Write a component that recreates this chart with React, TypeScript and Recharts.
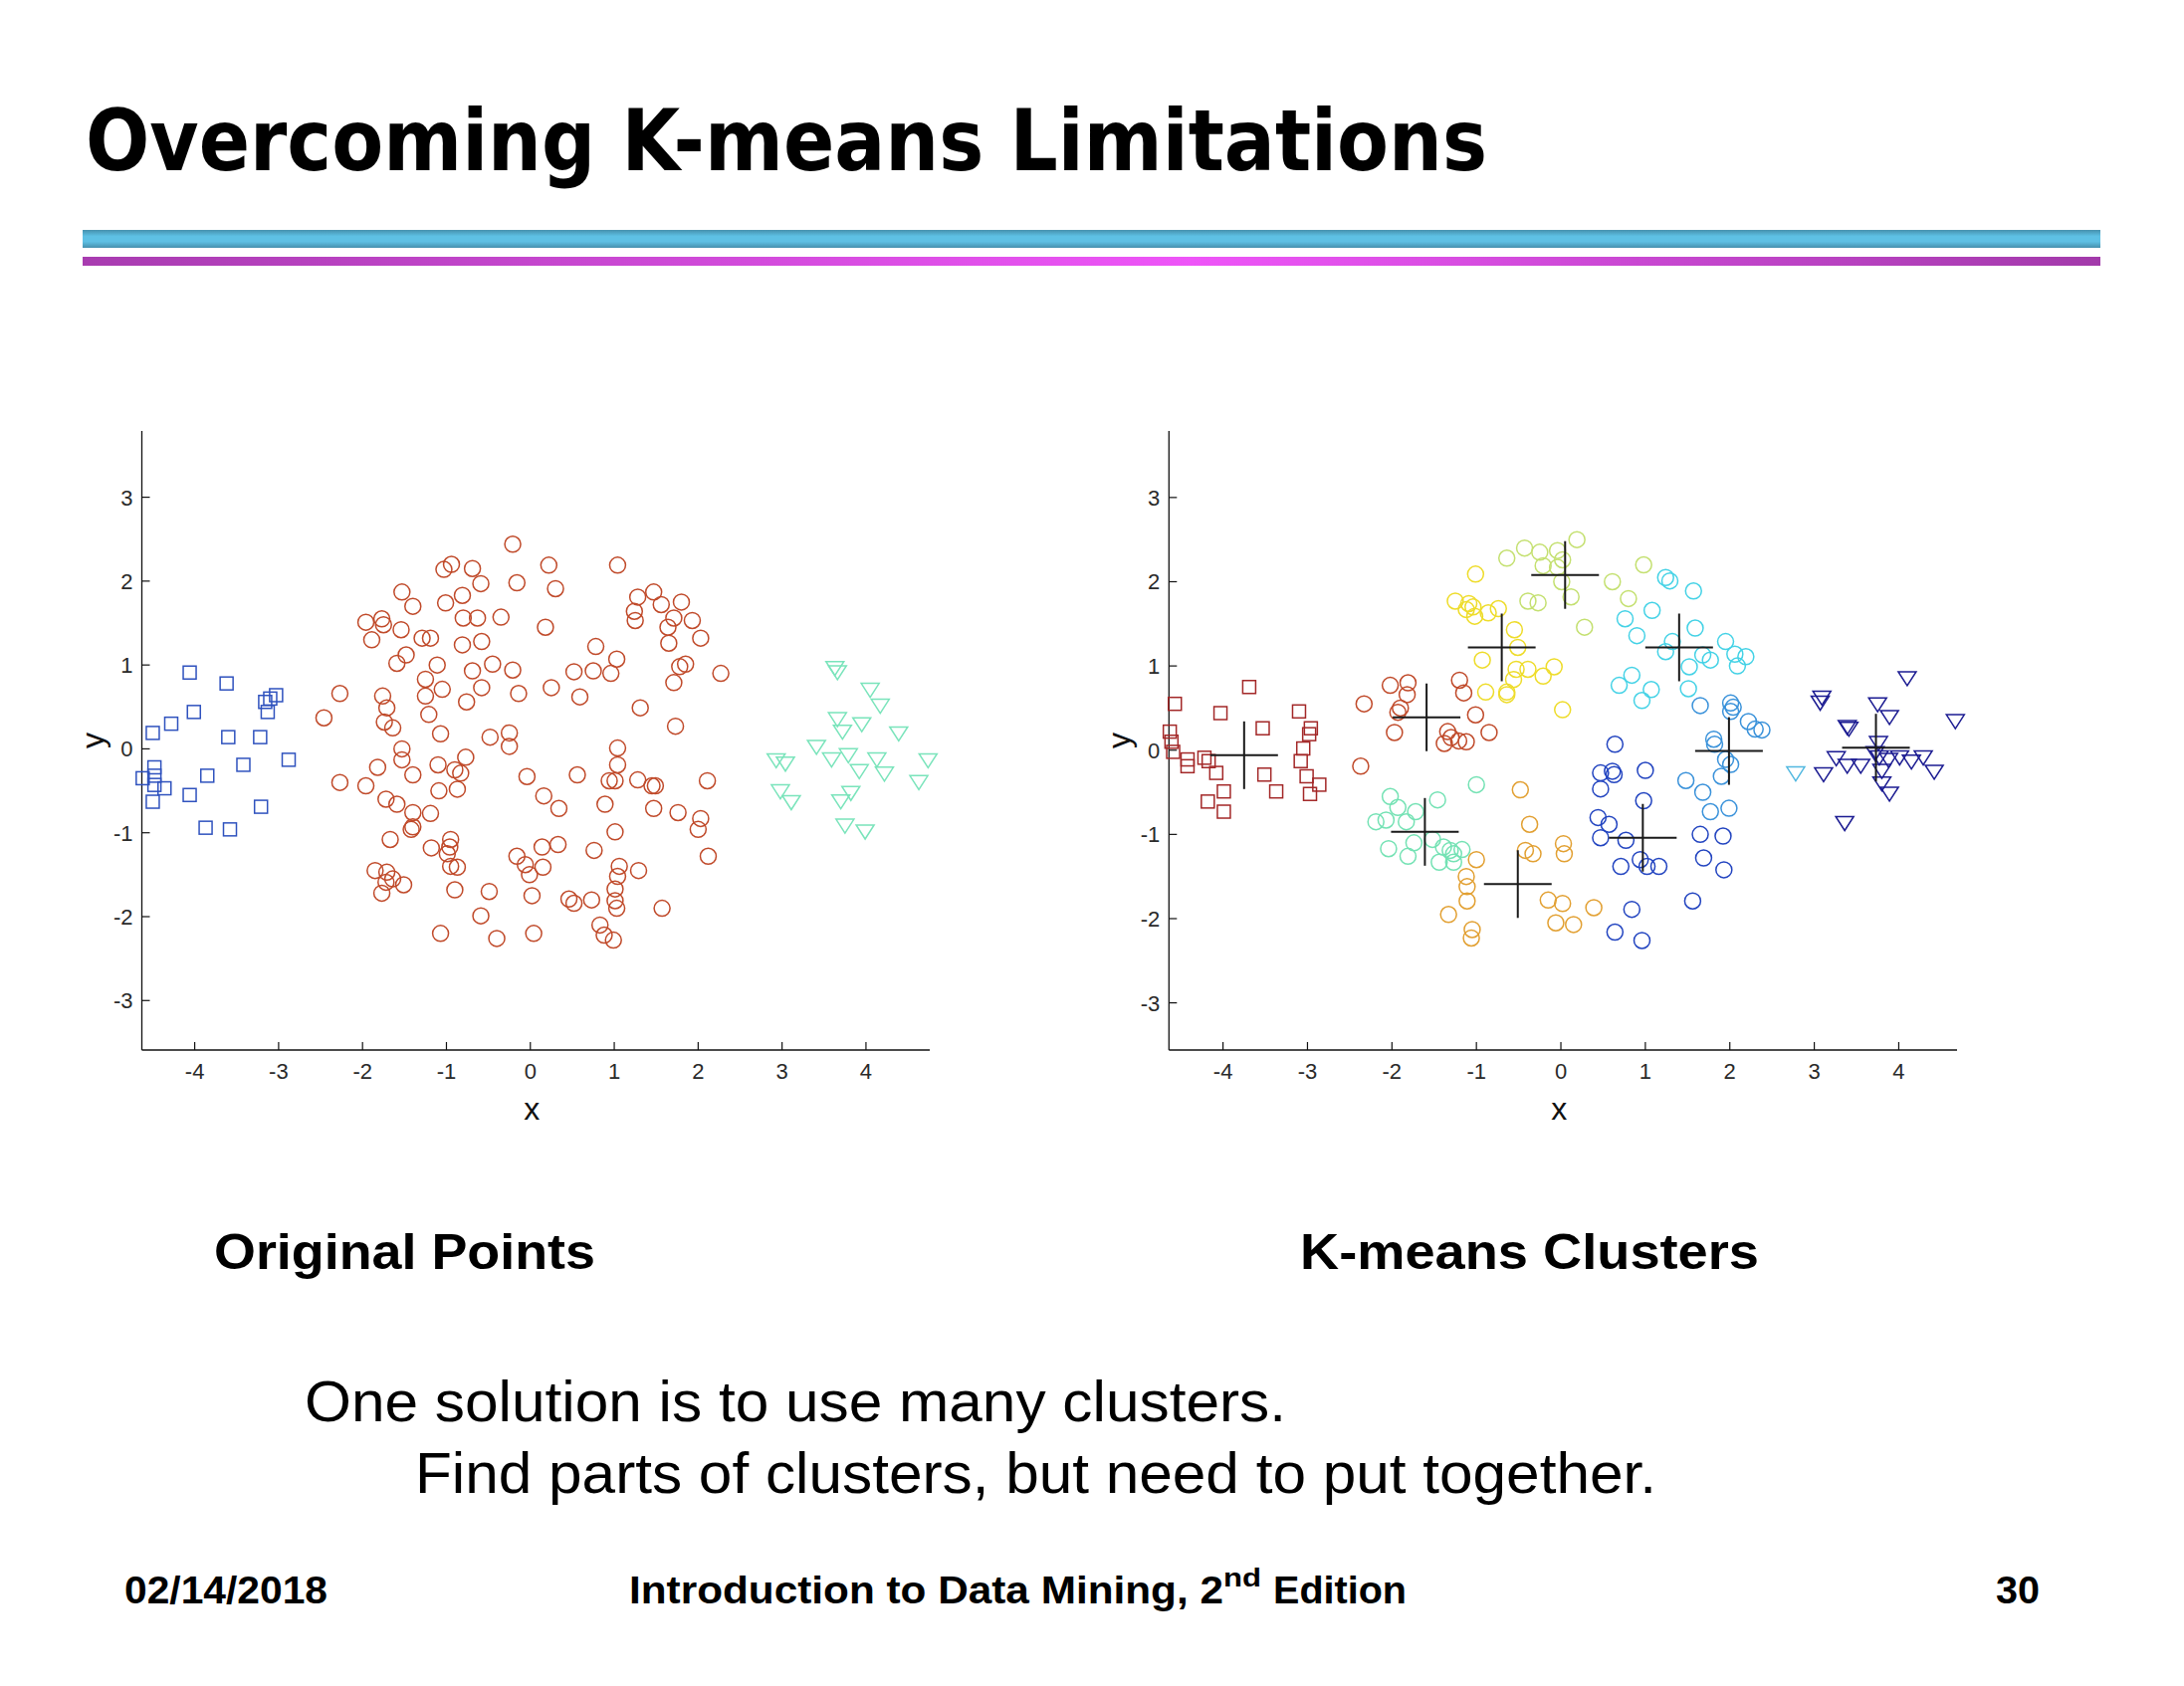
import { ScatterChart, Scatter, XAxis, YAxis } from "recharts";

// ─── Data ──────────────────────────────────────────────────

type Pt = [number, number];

const TICKS_X = [-4, -3, -2, -1, 0, 1, 2, 3, 4];
const TICKS_Y = [-3, -2, -1, 0, 1, 2, 3];

// Original Points
const origSquares: Pt[] = [
  [-4.06, 0.91], [-3.62, 0.78], [-3.03, 0.64], [-3.16, 0.56], [-3.1, 0.6], [-3.13, 0.44],
  [-4.01, 0.44], [-4.28, 0.3], [-4.5, 0.19], [-3.6, 0.14], [-3.22, 0.14], [-2.88, -0.13],
  [-3.42, -0.19], [-3.85, -0.32], [-4.48, -0.22], [-4.48, -0.32], [-4.62, -0.35], [-4.48, -0.43],
  [-4.36, -0.47], [-4.06, -0.55], [-4.5, -0.63], [-3.21, -0.69], [-3.87, -0.94], [-3.58, -0.96],
];

const origTriangles: Pt[] = [
  [3.63, 0.97], [3.66, 0.92], [4.05, 0.71], [4.17, 0.52], [3.66, 0.36], [3.95, 0.3],
  [3.72, 0.21], [4.39, 0.19], [3.41, 0.03], [3.59, -0.12], [3.79, -0.07], [4.13, -0.12],
  [4.74, -0.13], [2.93, -0.13], [3.04, -0.17], [3.92, -0.26], [4.22, -0.29], [4.63, -0.39],
  [2.98, -0.5], [3.11, -0.63], [3.82, -0.52], [3.7, -0.62], [3.75, -0.91], [3.99, -0.98],
];

const origCircles: Pt[] = [
  [-0.21, 2.44], [-0.94, 2.2], [-1.03, 2.14], [-0.69, 2.15], [0.22, 2.19], [1.04, 2.19],
  [-0.16, 1.98], [-0.59, 1.97], [0.3, 1.91], [-1.53, 1.87], [-0.81, 1.83], [1.28, 1.81],
  [1.47, 1.87], [-1.4, 1.7], [-1.01, 1.74], [1.56, 1.72], [1.8, 1.75], [1.24, 1.64],
  [1.25, 1.53], [-1.96, 1.51], [-1.77, 1.55], [-1.75, 1.48], [-1.54, 1.42], [-0.8, 1.56],
  [-0.63, 1.56], [-0.35, 1.57], [1.71, 1.56], [1.93, 1.53], [1.64, 1.45], [0.18, 1.45],
  [-1.89, 1.3], [-1.29, 1.32], [-1.19, 1.32], [-0.81, 1.24], [-0.58, 1.28], [1.65, 1.26],
  [2.03, 1.32], [-1.48, 1.12], [-1.59, 1.02], [-1.11, 1.0], [-0.45, 1.01], [0.78, 1.22],
  [1.03, 1.07], [-0.69, 0.93], [-0.21, 0.94], [0.52, 0.92], [0.75, 0.93], [0.96, 0.9],
  [1.85, 1.01], [1.78, 0.98], [2.27, 0.9], [-1.25, 0.83], [-1.05, 0.71], [-0.58, 0.73],
  [0.25, 0.73], [1.71, 0.79], [-2.27, 0.66], [-1.76, 0.63], [-1.25, 0.63], [-0.14, 0.66],
  [0.59, 0.62], [-0.76, 0.56], [-1.71, 0.49], [1.31, 0.49], [-2.46, 0.37], [-1.21, 0.41],
  [-1.74, 0.32], [-1.64, 0.25], [1.73, 0.27], [-1.07, 0.18], [-0.25, 0.19], [-0.48, 0.14],
  [-0.25, 0.03], [-1.53, 0.0], [1.04, 0.01], [-1.53, -0.13], [-0.77, -0.1], [-1.1, -0.19],
  [1.04, -0.19], [-1.82, -0.22], [-0.9, -0.25], [-0.83, -0.29], [-1.4, -0.31], [-0.04, -0.33],
  [0.56, -0.31], [-2.27, -0.4], [-1.96, -0.44], [0.94, -0.38], [1.01, -0.38], [1.28, -0.37],
  [1.45, -0.44], [1.49, -0.44], [2.11, -0.38], [-1.09, -0.5], [-0.87, -0.48], [-1.72, -0.6],
  [-1.59, -0.66], [0.16, -0.56], [0.89, -0.66], [0.34, -0.71], [1.47, -0.71], [-1.4, -0.76],
  [-1.19, -0.77], [1.76, -0.76], [2.03, -0.83], [-1.4, -0.93], [-1.42, -0.96], [2.0, -0.96],
  [1.01, -0.99], [-1.67, -1.08], [-0.95, -1.08], [-0.96, -1.17], [-1.18, -1.18], [0.14, -1.17],
  [0.33, -1.14], [0.76, -1.21], [-0.99, -1.25], [2.12, -1.28], [-0.16, -1.28], [-0.06, -1.38],
  [-0.95, -1.4], [-0.87, -1.41], [0.15, -1.41], [1.29, -1.45], [1.06, -1.4], [-1.85, -1.45],
  [-1.71, -1.47], [-1.64, -1.55], [-1.72, -1.59], [-1.51, -1.62], [1.04, -1.52], [-0.01, -1.5],
  [1.01, -1.67], [-0.9, -1.68], [-0.49, -1.7], [-1.77, -1.72], [0.02, -1.75], [0.46, -1.79],
  [0.52, -1.84], [0.73, -1.8], [1.01, -1.81], [1.03, -1.9], [1.57, -1.9], [-0.59, -1.99],
  [0.83, -2.1], [0.88, -2.22], [-1.07, -2.2], [0.04, -2.2], [-0.4, -2.26], [0.99, -2.28],
];

// K-means Clusters (one array per cluster)
const kmSquares: Pt[] = [
  [-3.69, 0.75], [-4.57, 0.55], [-4.03, 0.44], [-3.1, 0.46], [-4.63, 0.22], [-3.53, 0.26],
  [-2.96, 0.26], [-2.98, 0.19], [-4.61, 0.1], [-4.59, -0.02], [-3.05, 0.02], [-4.42, -0.11],
  [-4.42, -0.19], [-4.22, -0.09], [-4.17, -0.13], [-3.08, -0.13], [-4.08, -0.27], [-3.51, -0.29],
  [-3.01, -0.31], [-2.86, -0.41], [-3.37, -0.49], [-3.99, -0.49], [-2.97, -0.52], [-4.18, -0.61],
  [-3.99, -0.73],
];

const kmBrown: Pt[] = [
  [-2.02, 0.77], [-1.81, 0.8], [-1.82, 0.66], [-1.2, 0.83], [-1.15, 0.68], [-2.33, 0.55],
  [-1.9, 0.5], [-1.93, 0.45], [-1.01, 0.42], [-1.97, 0.21], [-1.34, 0.22], [-1.3, 0.15],
  [-1.21, 0.11], [-1.12, 0.1], [-1.38, 0.08], [-0.85, 0.21], [-2.37, -0.19],
];

const kmYellow: Pt[] = [
  [-1.01, 2.09], [-1.25, 1.77], [-1.09, 1.74], [-1.04, 1.7], [-1.12, 1.67], [-1.02, 1.59],
  [-0.86, 1.63], [-0.74, 1.68], [-0.55, 1.43], [-0.51, 1.22], [-0.93, 1.07], [-0.53, 0.96],
  [-0.56, 0.84], [-0.39, 0.96], [-0.21, 0.88], [-0.08, 0.99], [-0.89, 0.69], [-0.64, 0.69],
  [-0.64, 0.66], [0.02, 0.48],
];

const kmLime: Pt[] = [
  [-0.64, 2.28], [-0.43, 2.4], [-0.25, 2.35], [-0.04, 2.37], [0.19, 2.5], [0.02, 2.26],
  [-0.21, 2.19], [-0.04, 2.17], [0.01, 2.0], [0.12, 1.82], [-0.39, 1.77], [-0.27, 1.75],
  [0.28, 1.46], [0.61, 2.0], [0.98, 2.2], [0.8, 1.8],
];

const kmCyan: Pt[] = [
  [1.24, 2.05], [1.29, 2.01], [1.57, 1.89], [1.08, 1.66], [0.76, 1.56], [0.9, 1.36],
  [1.59, 1.45], [1.24, 1.17], [1.32, 1.29], [1.95, 1.29], [1.68, 1.13], [1.77, 1.07],
  [2.06, 1.14], [2.19, 1.11], [2.09, 1.0], [1.52, 0.99], [0.84, 0.89], [0.69, 0.77],
  [1.07, 0.72], [0.96, 0.59], [1.51, 0.73],
];

const kmSky: Pt[] = [
  [1.65, 0.53], [2.01, 0.56], [2.04, 0.51], [2.01, 0.46], [2.22, 0.34], [2.3, 0.25],
  [2.38, 0.24], [1.81, 0.13], [1.82, 0.07], [1.95, -0.11], [2.01, -0.17], [1.48, -0.36],
  [1.9, -0.31], [1.68, -0.5], [1.99, -0.69], [1.77, -0.73],
];
const kmSkyTriangles: Pt[] = [[2.78, -0.27]];

const kmBlue: Pt[] = [
  [0.64, 0.07], [0.47, -0.27], [0.61, -0.25], [0.63, -0.29], [1.0, -0.24], [0.47, -0.46],
  [0.98, -0.6], [0.44, -0.8], [0.57, -0.88], [0.47, -1.04], [0.77, -1.07], [1.65, -1.0],
  [1.92, -1.02], [0.94, -1.3], [1.02, -1.38], [1.16, -1.38], [0.71, -1.38], [1.69, -1.28],
  [1.93, -1.42], [1.56, -1.79], [0.84, -1.89], [0.64, -2.16], [0.96, -2.26],
];

const kmMint: Pt[] = [
  [-1.0, -0.41], [-2.02, -0.55], [-1.46, -0.59], [-1.93, -0.68], [-1.72, -0.73], [-2.19, -0.85],
  [-2.07, -0.83], [-1.83, -0.85], [-1.52, -1.06], [-1.74, -1.1], [-2.04, -1.17], [-1.39, -1.15],
  [-1.31, -1.19], [-1.17, -1.18], [-1.27, -1.23], [-1.81, -1.26], [-1.44, -1.33], [-1.27, -1.33],
];

const kmOrange: Pt[] = [
  [-0.48, -0.47], [-0.37, -0.88], [-0.42, -1.19], [-0.33, -1.23], [0.03, -1.11], [0.04, -1.23],
  [-1.0, -1.3], [-1.12, -1.5], [-1.11, -1.62], [-1.11, -1.79], [-1.33, -1.95], [-0.15, -1.78],
  [0.02, -1.82], [0.39, -1.87], [-0.06, -2.05], [0.15, -2.07], [-1.05, -2.13], [-1.06, -2.23],
];

const kmNavyTriangles: Pt[] = [
  [3.09, 0.63], [3.07, 0.57], [4.1, 0.86], [3.75, 0.55], [3.89, 0.4], [3.39, 0.28],
  [3.41, 0.26], [4.67, 0.35], [3.76, 0.09], [3.26, -0.09], [3.39, -0.18], [3.55, -0.18],
  [3.77, -0.08], [3.88, -0.11], [4.01, -0.08], [3.72, -0.03], [4.15, -0.13], [4.29, -0.08],
  [4.42, -0.25], [3.11, -0.28], [3.8, -0.24], [3.8, -0.39], [3.89, -0.51], [3.36, -0.86],
];

const kmCentroids: Pt[] = [
  [-3.75, -0.06], [-1.59, 0.39], [-0.7, 1.22], [0.05, 2.08], [1.4, 1.22],
  [1.99, -0.01], [0.97, -1.04], [-1.61, -0.97], [-0.51, -1.59], [3.73, 0.03],
];

const toRows = (pts: Pt[]) => pts.map(([x, y]) => ({ x, y }));

// ─── Markers ───────────────────────────────────────────────

type Kind = "circle" | "square" | "triangle" | "cross";

interface MarkerProps {
  cx?: number;
  cy?: number;
  kind: Kind;
  color: string;
}

function Marker({ cx, cy, kind, color }: MarkerProps) {
  if (cx === undefined || cy === undefined) return <g />;
  if (kind === "circle")
    return <circle cx={cx} cy={cy} r={8} fill="none" stroke={color} strokeWidth={1.5} />;
  if (kind === "square")
    return <rect x={cx - 6.5} y={cy - 6.5} width={13} height={13} fill="none" stroke={color} strokeWidth={1.5} />;
  if (kind === "triangle")
    return (
      <polygon
        points={`${cx - 9},${cy - 6} ${cx + 9},${cy - 6} ${cx},${cy + 8}`}
        fill="none"
        stroke={color}
        strokeWidth={1.5}
      />
    );
  // centroid "+"
  return (
    <g stroke={color} strokeWidth={2}>
      <line x1={cx - 34} y1={cy} x2={cx + 34} y2={cy} />
      <line x1={cx} y1={cy - 34} x2={cx} y2={cy + 34} />
    </g>
  );
}

const TICK_FONT = "'Liberation Sans', Arial, sans-serif";

// ticks point inwards, like matlab
function XTick({ x, y, payload }: { x?: number; y?: number; payload?: { value: number } }) {
  if (x === undefined || y === undefined || !payload) return <g />;
  return (
    <g>
      <line x1={x} y1={y} x2={x} y2={y - 8} stroke="#111" strokeWidth={1.2} />
      <text x={x} y={y + 29} textAnchor="middle" fontSize={22} fill="#2a2a2a" fontFamily={TICK_FONT}>
        {payload.value}
      </text>
    </g>
  );
}

function YTick({ x, y, payload }: { x?: number; y?: number; payload?: { value: number } }) {
  if (x === undefined || y === undefined || !payload) return <g />;
  return (
    <g>
      <line x1={x} y1={y} x2={x + 8} y2={y} stroke="#111" strokeWidth={1.2} />
      <text x={x - 9} y={y + 8} textAnchor="end" fontSize={22} fill="#2a2a2a" fontFamily={TICK_FONT}>
        {payload.value}
      </text>
    </g>
  );
}

function XLabel({ viewBox }: { viewBox?: { x: number; y: number; width: number } }) {
  if (!viewBox) return null;
  return (
    <text x={viewBox.x + viewBox.width / 2 - 4} y={viewBox.y + 70} textAnchor="middle" fontSize={32} fill="#111" fontFamily={TICK_FONT}>
      x
    </text>
  );
}

function YLabel({ viewBox }: { viewBox?: { x: number; y: number; width: number; height: number } }) {
  if (!viewBox) return null;
  const cx = viewBox.x + viewBox.width - 50;
  const cy = viewBox.y + viewBox.height / 2;
  return (
    <text
      x={cx}
      y={cy}
      transform={`rotate(-90 ${cx} ${cy})`}
      textAnchor="middle"
      dominantBaseline="central"
      fontSize={32}
      fill="#111"
      fontFamily={TICK_FONT}
    >
      y
    </text>
  );
}

// ─── One matlab-style scatter panel ────────────────────────

interface SeriesDef {
  name: string;
  points: Pt[];
  kind: Kind;
  color: string;
}

interface PanelProps {
  left: number;
  marginLeft: number;
  marginRight: number;
  xDomain: [number, number];
  yDomain: [number, number];
  series: SeriesDef[];
}

function Panel({ left, marginLeft, marginRight, xDomain, yDomain, series }: PanelProps) {
  return (
    <div style={{ position: "absolute", left, top: 400 }}>
      <ScatterChart
        width={940}
        height={740}
        margin={{ top: 33, right: marginRight, bottom: 0, left: marginLeft }}
      >
        <XAxis
          type="number"
          dataKey="x"
          domain={xDomain}
          ticks={TICKS_X}
          height={85}
          tickSize={0}
          tickMargin={0}
          tickLine={false}
          axisLine={{ stroke: "#111", strokeWidth: 1.3 }}
          tick={(p: any) => <XTick {...p} />}
          label={{ content: (p: any) => <XLabel {...p} /> }}
        />
        <YAxis
          type="number"
          dataKey="y"
          domain={yDomain}
          ticks={TICKS_Y}
          width={60}
          tickSize={0}
          tickMargin={0}
          tickLine={false}
          axisLine={{ stroke: "#111", strokeWidth: 1.3 }}
          tick={(p: any) => <YTick {...p} />}
          label={{ content: (p: any) => <YLabel {...p} /> }}
        />
        {series.map((s) => (
          <Scatter
            key={s.name}
            name={s.name}
            data={toRows(s.points)}
            isAnimationActive={false}
            shape={(p: any) => <Marker cx={p.cx} cy={p.cy} kind={s.kind} color={s.color} />}
          />
        ))}
      </ScatterChart>
    </div>
  );
}

const ORIGINAL_SERIES: SeriesDef[] = [
  { name: "squares", points: origSquares, kind: "square", color: "#2f52be" },
  { name: "circles", points: origCircles, kind: "circle", color: "#c04a2a" },
  { name: "triangles", points: origTriangles, kind: "triangle", color: "#7ae4bb" },
];

const KMEANS_SERIES: SeriesDef[] = [
  { name: "c1", points: kmSquares, kind: "square", color: "#a32828" },
  { name: "c2", points: kmBrown, kind: "circle", color: "#c04a2a" },
  { name: "c3", points: kmYellow, kind: "circle", color: "#eedc2a" },
  { name: "c4", points: kmLime, kind: "circle", color: "#c4e070" },
  { name: "c5", points: kmCyan, kind: "circle", color: "#44d2e6" },
  { name: "c6", points: kmSky, kind: "circle", color: "#3a92da" },
  { name: "c6t", points: kmSkyTriangles, kind: "triangle", color: "#52b8e0" },
  { name: "c7", points: kmBlue, kind: "circle", color: "#2244c0" },
  { name: "c8", points: kmMint, kind: "circle", color: "#74e2b4" },
  { name: "c9", points: kmOrange, kind: "circle", color: "#e2a032" },
  { name: "c10", points: kmNavyTriangles, kind: "triangle", color: "#1c1c92" },
  { name: "centroids", points: kmCentroids, kind: "cross", color: "#1a1a1a" },
];

// ─── Slide ─────────────────────────────────────────────────

const ARIAL = "'Liberation Sans', Arial, sans-serif";

export default function App() {
  return (
    <div style={{ position: "absolute", left: 0, top: 0, width: 2194, height: 1694, background: "#fff" }}>
      <svg width={2194} height={1694} style={{ position: "absolute", left: 0, top: 0 }}>
        <defs>
          <linearGradient id="blueBar" x1="0" y1="0" x2="0" y2="1">
            <stop offset="0%" stopColor="#4690ad" />
            <stop offset="35%" stopColor="#5ec0e4" />
            <stop offset="65%" stopColor="#5ec0e4" />
            <stop offset="100%" stopColor="#4690ad" />
          </linearGradient>
          <linearGradient id="pinkBar" x1="0" y1="0" x2="1" y2="0">
            <stop offset="0%" stopColor="#a83cb0" />
            <stop offset="55%" stopColor="#ee55f8" />
            <stop offset="100%" stopColor="#a23aaa" />
          </linearGradient>
        </defs>
        <text x={86} y={171} fontSize={86} fontWeight="bold" fontFamily="'DejaVu Sans', Verdana, sans-serif" textLength={1408} lengthAdjust="spacingAndGlyphs">
          Overcoming K-means Limitations
        </text>
        <rect x={83} y={231} width={2027} height={18} fill="url(#blueBar)" />
        <rect x={83} y={258} width={2027} height={9} fill="url(#pinkBar)" />

        <text x={215} y={1275} fontSize={50} fontWeight="bold" fontFamily={ARIAL} textLength={383} lengthAdjust="spacingAndGlyphs">
          Original Points
        </text>
        <text x={1306} y={1275} fontSize={50} fontWeight="bold" fontFamily={ARIAL} textLength={461} lengthAdjust="spacingAndGlyphs">
          K-means Clusters
        </text>

        <text x={306} y={1428} fontSize={58} fontFamily={ARIAL} textLength={986} lengthAdjust="spacingAndGlyphs">
          One solution is to use many clusters.
        </text>
        <text x={417} y={1500} fontSize={58} fontFamily={ARIAL} textLength={1247} lengthAdjust="spacingAndGlyphs">
          Find parts of clusters, but need to put together.
        </text>

        <text x={125} y={1611} fontSize={39} fontWeight="bold" fontFamily={ARIAL} textLength={204} lengthAdjust="spacingAndGlyphs">
          02/14/2018
        </text>
        <text x={632} y={1611} fontSize={39} fontWeight="bold" fontFamily={ARIAL} textLength={597} lengthAdjust="spacingAndGlyphs">
          Introduction to Data Mining, 2
        </text>
        <text x={1229} y={1594} fontSize={25} fontWeight="bold" fontFamily={ARIAL} textLength={38} lengthAdjust="spacingAndGlyphs">
          nd
        </text>
        <text x={1279} y={1611} fontSize={39} fontWeight="bold" fontFamily={ARIAL} textLength={134} lengthAdjust="spacingAndGlyphs">
          Edition
        </text>
        <text x={2005} y={1611} fontSize={39} fontWeight="bold" fontFamily={ARIAL} textLength={44} lengthAdjust="spacingAndGlyphs">
          30
        </text>
      </svg>

      <Panel
        left={40}
        marginLeft={42.5}
        marginRight={46}
        xDomain={[-4.63, 4.76]}
        yDomain={[-3.59, 3.79]}
        series={ORIGINAL_SERIES}
      />
      <Panel
        left={1070}
        marginLeft={44.3}
        marginRight={44}
        xDomain={[-4.64, 4.69]}
        yDomain={[-3.56, 3.79]}
        series={KMEANS_SERIES}
      />
    </div>
  );
}
